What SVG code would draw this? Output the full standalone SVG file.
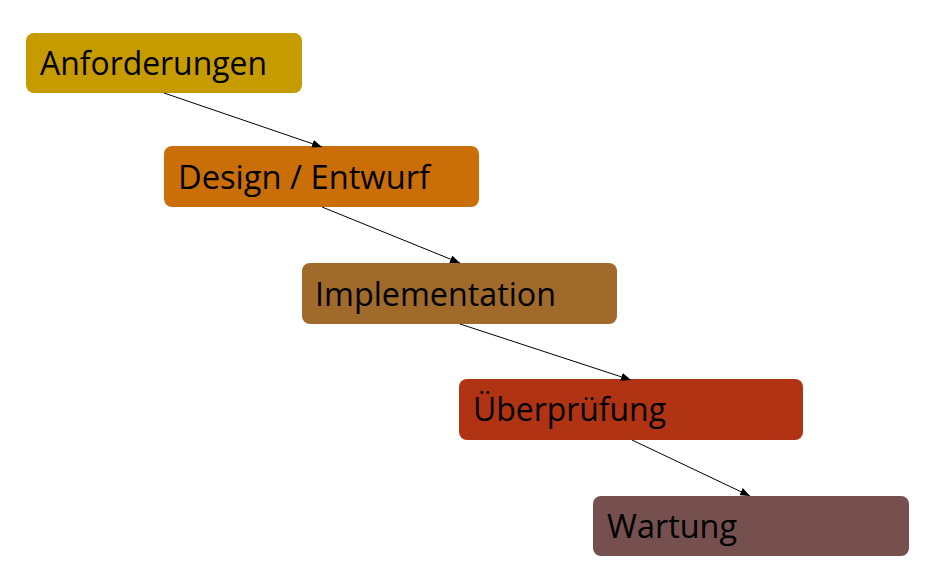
<svg xmlns="http://www.w3.org/2000/svg" width="938" height="579" viewBox="0 0 938 579">
<style>
.lbl{font-family:"Open Sans","Noto Sans","Liberation Sans",sans-serif;font-size:32px;fill:#000}
.conn{stroke:#000;stroke-width:1;fill:none;marker-end:url(#ah)}
</style>
<defs>
<marker id="ah" markerWidth="10" markerHeight="8" refX="10" refY="4" orient="auto" markerUnits="userSpaceOnUse">
<path d="M0,0 L10,4 L0,8 Z" fill="#000"/>
</marker>
</defs>
<rect width="938" height="579" fill="#fff"/>
<g id="n1"><rect x="26" y="33" width="276" height="60" rx="8" fill="#C59B00"/><text class="lbl" x="40" y="75" textLength="227" lengthAdjust="spacingAndGlyphs">Anforderungen</text></g>
<g id="n2"><rect x="164" y="146" width="315" height="61" rx="8" fill="#CA6F08"/><text class="lbl" x="178" y="189" textLength="252" lengthAdjust="spacingAndGlyphs">Design / Entwurf</text></g>
<g id="n3"><rect x="302" y="263" width="315" height="61" rx="8" fill="#9F6A2A"/><text class="lbl" x="315" y="306" textLength="241" lengthAdjust="spacingAndGlyphs">Implementation</text></g>
<g id="n4"><rect x="459" y="379" width="344" height="61" rx="8" fill="#B03314"/><text class="lbl" x="473" y="421" textLength="193" lengthAdjust="spacingAndGlyphs">Überprüfung</text></g>
<g id="n5"><rect x="593" y="496" width="316" height="60" rx="8" fill="#764F4F"/><text class="lbl" x="607" y="538" textLength="130" lengthAdjust="spacingAndGlyphs">Wartung</text></g>
<g id="connectors">
<line class="conn" x1="164" y1="93" x2="322" y2="147"/>
<line class="conn" x1="322" y1="207" x2="460" y2="263"/>
<line class="conn" x1="460" y1="324" x2="631" y2="380"/>
<line class="conn" x1="632" y1="440" x2="750" y2="496"/>
</g>
</svg>
